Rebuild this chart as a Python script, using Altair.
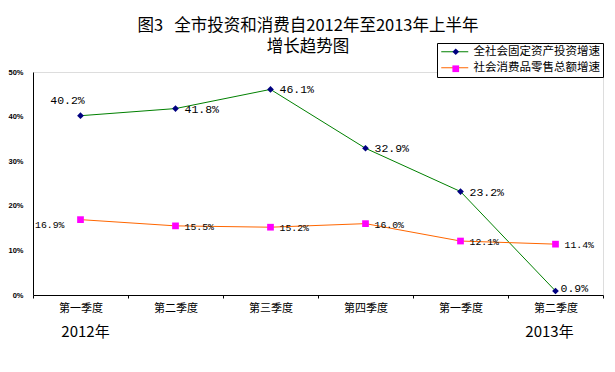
import altair as alt
import pandas as pd

quarter_labels = ["第一季度", "第二季度", "第三季度", "第四季度", "第一季度", "第二季度"]
year_labels = ["2012年", "", "", "", "", "2013年"]
invest = [40.2, 41.8, 46.1, 32.9, 23.2, 0.9]
retail = [16.9, 15.5, 15.2, 16.0, 12.1, 11.4]
series = ["全社会固定资产投资增速", "社会消费品零售总额增速"]
line_colors = ["#008000", "#FF6600"]
marker_colors = ["#000080", "#FF00FF"]
marker_shapes = ["diamond", "square"]

rows = []
for i in range(len(quarter_labels)):
    for s, vals in zip(series, [invest, retail]):
        rows.append({"i": i, "series": s, "series_m": s, "v": vals[i],
                     "label": f"{vals[i]:.1f}%", "year": year_labels[i]})
df = pd.DataFrame(rows)

label_expr = "[" + ",".join(f"'{q}'" for q in quarter_labels) + "][datum.value]"

x_enc = alt.X("i:O", bandPosition=0.5,
              scale=alt.Scale(type="band", paddingInner=0, paddingOuter=0),
              axis=alt.Axis(title=None, labelExpr=label_expr, labelAngle=0,
                            tickBand="extent", tickSize=3, tickColor="black",
                            domainColor="black", labelFont="Noto Sans CJK SC",
                            labelFontSize=11, labelColor="black", labelPadding=4,
                            grid=False))
y_enc = alt.Y("v:Q", scale=alt.Scale(domain=[0, 50], nice=False),
              axis=alt.Axis(title=None, values=[0, 10, 20, 30, 40, 50],
                            labelExpr="datum.value + '%'", ticks=False,
                            domainColor="black", labelFont="Liberation Sans",
                            labelFontWeight="bold", labelFontSize=7.5,
                            labelColor="black", labelPadding=10, grid=False))

base = alt.Chart(df)

leg_common = dict(orient="none", legendY=-29, title=None, padding=3,
                  symbolOffset=9, labelOffset=13, rowPadding=3,
                  labelFont="Noto Sans CJK SC", labelFontSize=11.5,
                  labelColor="black", labelLimit=0)

lines = base.mark_line(strokeWidth=1).encode(
    x=x_enc, y=y_enc,
    stroke=alt.Stroke("series:N", sort=series,
                      scale=alt.Scale(domain=series, range=line_colors),
                      legend=alt.Legend(legendX=404, symbolType="M-3,0H3",
                                        symbolSize=81, symbolStrokeWidth=1,
                                        strokeColor="black", fillColor="white",
                                        **leg_common)),
)

points = base.mark_point(filled=True, size=45, opacity=1).encode(
    x=x_enc, y=y_enc,
    fill=alt.Fill("series_m:N", sort=series,
                  scale=alt.Scale(domain=series, range=marker_colors),
                  legend=alt.Legend(legendX=405, symbolSize=45, labelOpacity=0,
                                    **leg_common)),
    shape=alt.Shape("series_m:N", sort=series,
                    scale=alt.Scale(domain=series, range=marker_shapes),
                    legend=alt.Legend(legendX=405, symbolSize=45, labelOpacity=0,
                                      **leg_common)),
)

INV = "datum.series == '全社会固定资产投资增速'"
RET = "datum.series == '社会消费品零售总额增速'"
txt_inv = dict(font="Liberation Mono", fontSize=11.5, color="black", baseline="middle")
txt_ret = dict(font="Liberation Mono", fontSize=9.8, color="black", baseline="middle")

lab_inv = base.transform_filter(f"{INV} && datum.i > 0 && datum.i < 5").mark_text(
    align="left", dx=9, dy=1, **txt_inv).encode(x=x_enc, y=y_enc, text="label:N")
lab_inv_first = base.transform_filter(f"{INV} && datum.i == 0").mark_text(
    align="center", dx=-13, dy=-15, **txt_inv).encode(x=x_enc, y=y_enc, text="label:N")
lab_inv_last = base.transform_filter(f"{INV} && datum.i == 5").mark_text(
    align="left", dx=5, dy=-2, **txt_inv).encode(x=x_enc, y=y_enc, text="label:N")

lab_ret = base.transform_filter(f"{RET} && datum.i > 0").mark_text(
    align="left", dx=9, dy=1, **txt_ret).encode(x=x_enc, y=y_enc, text="label:N")
lab_ret_first = base.transform_filter(f"{RET} && datum.i == 0").mark_text(
    align="right", dx=-16, dy=5, **txt_ret).encode(x=x_enc, y=y_enc, text="label:N")

ytxt = dict(font="Noto Sans CJK SC", fontSize=15, color="black", baseline="middle")
year_first = base.transform_filter(f"{INV} && datum.i == 0").mark_text(
    align="center", dx=5, **ytxt).encode(x=x_enc, y=alt.datum(-8.3), text="year:N")
year_last = base.transform_filter(f"{INV} && datum.i == 5").mark_text(
    align="center", dx=-6, **ytxt).encode(x=x_enc, y=alt.datum(-8.3), text="year:N")

chart = alt.layer(
    lines, points, lab_inv, lab_inv_first, lab_inv_last, lab_ret, lab_ret_first,
    year_first, year_last
).resolve_legend(stroke="independent", fill="independent", shape="independent").properties(
    width=570, height=223,
    autosize=alt.AutoSizeParams(type="none"),
    padding={"left": 25, "top": 64, "right": 4, "bottom": 60},
    title=alt.Title(["图3\u00a0\u00a0\u00a0全市投资和消费自2012年至2013年上半年", "增长趋势图"],
                    font="Noto Sans CJK SC", fontSize=16.5, fontWeight="normal",
                    lineHeight=21.5, anchor="middle", color="black", offset=12,
                    dy=25, dx=-10),
).configure_view(stroke=None).configure(background="white")

chart.save("out.html", embed_options={"renderer": "svg", "actions": False})
